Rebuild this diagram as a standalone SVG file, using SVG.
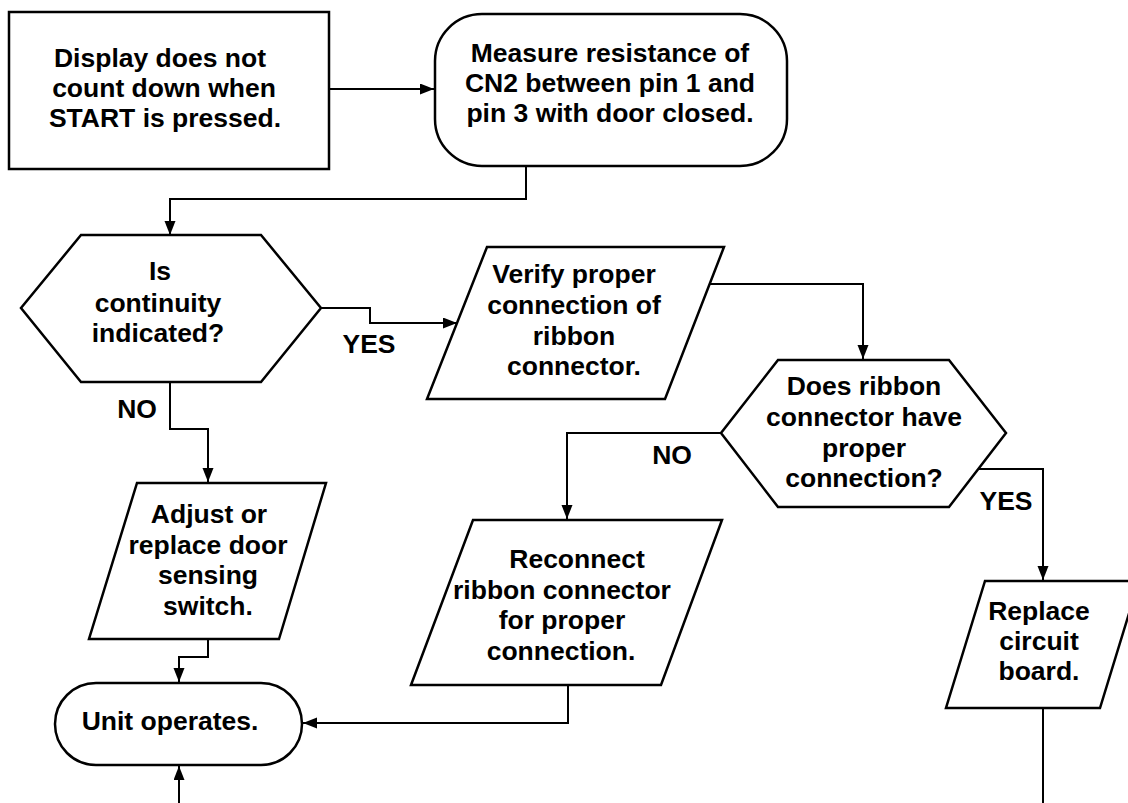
<svg xmlns="http://www.w3.org/2000/svg" width="1128" height="803" viewBox="0 0 1128 803">
<defs>
<style>
.shape{fill:#fff;stroke:#000;stroke-width:2.5;stroke-linejoin:miter}
.conn{fill:none;stroke:#000;stroke-width:2}
text{font-family:"Liberation Sans",Arial,Helvetica,sans-serif;font-weight:bold;font-size:26.5px;fill:#000;text-anchor:middle}
</style>
<marker id="arr" markerUnits="userSpaceOnUse" markerWidth="15" markerHeight="12" refX="14" refY="5.5" orient="auto">
<path d="M0,0 L14,5.5 L0,11 z" fill="#000"/>
</marker>
</defs>
<rect width="1128" height="803" fill="#fff"/>

<g id="connectors">
<path class="conn" d="M329,89 L434,89" marker-end="url(#arr)"/>
<path class="conn" d="M526,166 L526,199 L170,199 L170,235" marker-end="url(#arr)"/>
<path class="conn" d="M321,308 L370,308 L370,323 L457,323" marker-end="url(#arr)"/>
<path class="conn" d="M710,284 L863,284 L863,359" marker-end="url(#arr)"/>
<path class="conn" d="M170,382 L170,429 L208,429 L208,482" marker-end="url(#arr)"/>
<path class="conn" d="M721,433 L567,433 L567,519" marker-end="url(#arr)"/>
<path class="conn" d="M978,469 L1043,469 L1043,580" marker-end="url(#arr)"/>
<path class="conn" d="M208,639 L208,657 L179,657 L179,682" marker-end="url(#arr)"/>
<path class="conn" d="M568,685 L568,723 L303,723" marker-end="url(#arr)"/>
<path class="conn" d="M179,803 L179,766" marker-end="url(#arr)"/>
<path class="conn" d="M1043,708 L1043,803"/>
</g>

<g id="n1">
<rect class="shape" x="9" y="12" width="320" height="157"/>
<text x="160" y="67">Display does not</text>
<text x="164" y="97">count down when</text>
<text x="165" y="127">START is pressed.</text>
</g>

<g id="n2">
<rect class="shape" x="435" y="14" width="352" height="152" rx="47" ry="47"/>
<text x="610" y="62">Measure resistance of</text>
<text x="610" y="92">CN2 between pin 1 and</text>
<text x="610" y="122">pin 3 with door closed.</text>
</g>

<g id="n3">
<polygon class="shape" points="81,235 261,235 321,308 261,382 81,382 21,308"/>
<text x="160" y="280">Is</text>
<text x="158" y="312">continuity</text>
<text x="158" y="342">indicated?</text>
</g>

<g id="n4">
<polygon class="shape" points="487,247 724,247 665,399 427,399"/>
<text x="574" y="283">Verify proper</text>
<text x="574" y="314">connection of</text>
<text x="574" y="345">ribbon</text>
<text x="574" y="375">connector.</text>
</g>

<g id="n5">
<polygon class="shape" points="778,360 949,360 1006,433 949,507 778,507 721,433"/>
<text x="864" y="395">Does ribbon</text>
<text x="864" y="426">connector have</text>
<text x="864" y="457">proper</text>
<text x="864" y="487">connection?</text>
</g>

<g id="n6">
<polygon class="shape" points="137,483 326,483 279,639 89,639"/>
<text x="209" y="523">Adjust or</text>
<text x="208" y="554">replace door</text>
<text x="208" y="584">sensing</text>
<text x="208" y="615">switch.</text>
</g>

<g id="n7">
<polygon class="shape" points="473,520 722,520 661,685 411,685"/>
<text x="577" y="568">Reconnect</text>
<text x="562" y="599">ribbon connector</text>
<text x="562" y="629">for proper</text>
<text x="561" y="660">connection.</text>
</g>

<g id="n8">
<polygon class="shape" points="985,581 1139,581 1100,708 946,708"/>
<text x="1039" y="620">Replace</text>
<text x="1039" y="650">circuit</text>
<text x="1039" y="680">board.</text>
</g>

<g id="n9">
<rect class="shape" x="55" y="683" width="247" height="82" rx="41" ry="41"/>
<text x="170" y="730">Unit operates.</text>
</g>

<g id="labels">
<text x="369" y="353">YES</text>
<text x="137" y="418">NO</text>
<text x="672" y="464">NO</text>
<text x="1006" y="510">YES</text>
</g>
</svg>
